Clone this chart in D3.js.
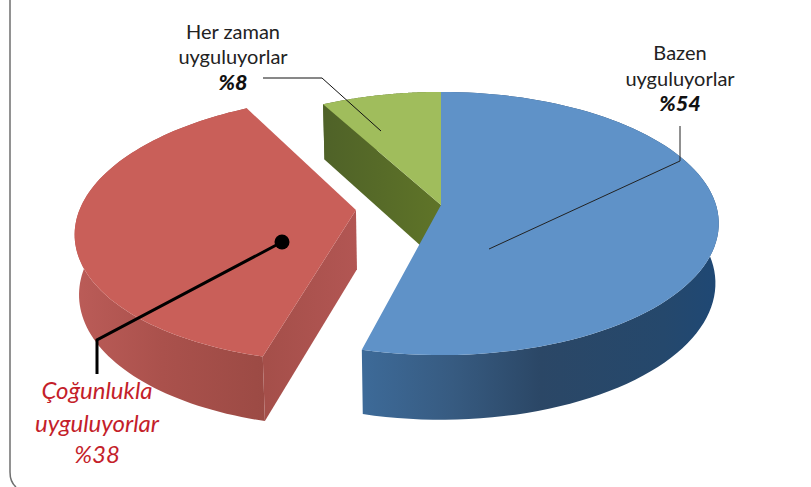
<!DOCTYPE html>
<html><head><meta charset="utf-8">
<script src="https://cdnjs.cloudflare.com/ajax/libs/d3/7.8.5/d3.min.js"></script>
<style>html,body{margin:0;padding:0;background:#fff}svg{display:block}text{font-family:Lato,"Noto Sans",sans-serif}</style>
</head><body><svg id="c" width="811" height="487"></svg>
<script>
const categories = ["Bazen uyguluyorlar", "Çoğunlukla uyguluyorlar", "Her zaman uyguluyorlar"];
const values = [54, 38, 8];
const percentLabels = ["%54", "%38", "%8"];
const explode = [0, 0.31, 0];
const topColors = ["#5f92c8", "#c95f59", "#a0bd5c"];

const svg = d3.select("#c");
const cx = 441, cy = 205, R = 275, S = 129, k = 0.1407, depth = 59;
const project = (u, v, h) => {
  const w = 1 + k * v;
  return [cx + (R * u / w) * (1 - 0.012 * h), cy - S * v / w + depth * h / Math.pow(w, 0.6)];
};
const pie = d3.pie().sort(null).value(d => d).startAngle(0).endAngle(2 * Math.PI);
const arcs = pie(values);
const lineGen = d3.line();
const defs = svg.append("defs");

const sideStops = [
  [[0,"#3d6a98"],[0.25,"#375b81"],[0.5,"#2b4766"],[0.85,"#25486c"],[1,"#1f4874"]],
  [[0,"#bb5c58"],[0.45,"#aa514c"],[1,"#9b4a44"]],
  [[0,"#4f6228"],[1,"#5f7428"]]
];
const sideRange = [[364,716],[75,270],[325,440]];
sideStops.forEach((st,i)=>{
  const g = defs.append("linearGradient").attr("id","side"+i).attr("gradientUnits","userSpaceOnUse")
    .attr("x1",sideRange[i][0]).attr("x2",sideRange[i][1]).attr("y1",0).attr("y2",0);
  st.forEach(s=>g.append("stop").attr("offset",s[0]).attr("stop-color",s[1]));
});
const fg = defs.append("linearGradient").attr("id","face1").attr("gradientUnits","userSpaceOnUse")
  .attr("x1",267).attr("x2",357).attr("y1",0).attr("y2",0);
fg.append("stop").attr("offset",0).attr("stop-color","#a54f4a");
fg.append("stop").attr("offset",1).attr("stop-color","#b25653");

function rim(a, e, h) {
  const n = 90, pts = [];
  const off = [Math.sin((a.startAngle + a.endAngle)/2) * e, Math.cos((a.startAngle + a.endAngle)/2) * e];
  for (let i = 0; i <= n; i++) {
    const t = a.startAngle + (a.endAngle - a.startAngle) * i / n;
    pts.push(project(Math.sin(t) + off[0], Math.cos(t) + off[1], h));
  }
  return pts;
}
function apex(a, e, h) {
  const m = (a.startAngle + a.endAngle)/2;
  return project(Math.sin(m)*e, Math.cos(m)*e, h);
}
// drawn back to front: Her zaman, Çoğunlukla, Bazen
[2,1,0].forEach(i => {
  const a = arcs[i], e = explode[i];
  const top = rim(a, e, 0), bot = rim(a, e, 1);
  const g = svg.append("g").attr("class","slice");
  // outer wall
  g.append("path").attr("d", lineGen(top.concat(bot.slice().reverse())) + "Z")
    .attr("fill", "url(#side"+i+")");
  // straight inner wall that faces the viewer
  const A0 = apex(a,e,0), A1 = apex(a,e,1);
  const wallPts = [top[0], A0, A1, bot[0]];
  if (i === 2) g.append("path").attr("d", lineGen(wallPts)+"Z").attr("fill","url(#side2)");
  if (i === 1) g.append("path").attr("d", lineGen(wallPts)+"Z").attr("fill","url(#face1)");
  // top
  g.append("path").attr("d", lineGen([A0].concat(top))+"Z").attr("fill", topColors[i]);
});

// frame, its bottom edge runs out of the crop
svg.append("path").attr("d","M10,0V472Q10,482 16,487").attr("fill","none").attr("stroke","#6f6f6f").attr("stroke-width",1.5);

// leaders
const lead = (pts,w,c)=>svg.append("path").attr("d",lineGen(pts)).attr("fill","none").attr("stroke",c).attr("stroke-width",w);
lead([[263,78],[322,78],[381,131]],1,"#111");
lead([[680,126],[680,161],[489,249]],1,"#222");
lead([[97,374],[97,340],[282,242]],3,"#000");
svg.append("circle").attr("cx",282).attr("cy",242).attr("r",7.5).attr("fill","#000");

// labels
function label(x, ys, lines, opts){
  lines.forEach((t,i)=>{
    const b = i===lines.length-1 && opts.boldLast;
    svg.append("text").attr("x",x).attr("y",ys[i]).attr("text-anchor","middle").text(t)
      .attr("font-size",b?opts.size+1.5:opts.size).attr("fill",b?"#111":opts.color)
      .attr("font-style",opts.italic||b?"italic":"normal")
      .attr("font-weight",b?"900":"400");
  });
}
label(233,[39,64,90],["Her zaman","uyguluyorlar",percentLabels[2]],{size:20,color:"#222",boldLast:true});
label(680,[60,86,111],["Bazen","uyguluyorlar",percentLabels[0]],{size:20,color:"#222",boldLast:true});
label(97,[399,432,463],["Çoğunlukla","uyguluyorlar",percentLabels[1]],{size:24,color:"#c41e2a",italic:true});
</script></body></html>
